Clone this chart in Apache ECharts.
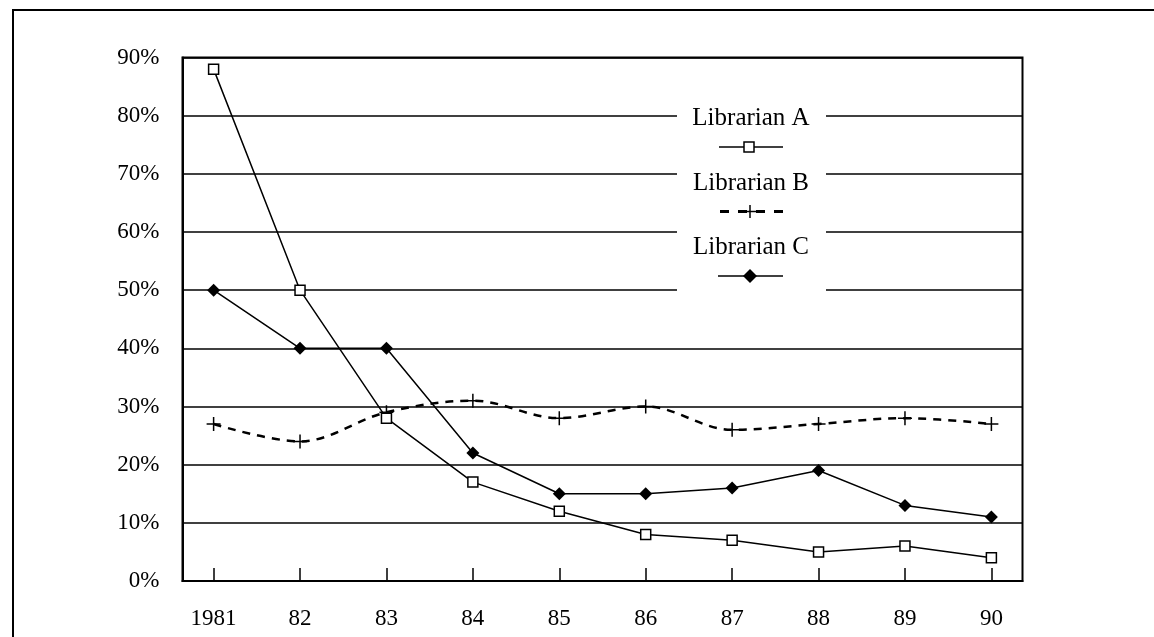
<!DOCTYPE html>
<html>
<head>
<meta charset="utf-8">
<script src="https://cdn.jsdelivr.net/npm/echarts@6/dist/echarts.min.js"></script>
<style>
html,body{margin:0;padding:0;background:#fff;}
#c{width:1154px;height:637px;}
</style>
</head>
<body>
<div id="c"></div>
<script>
const years = [1981, 1982, 1983, 1984, 1985, 1986, 1987, 1988, 1989, 1990];
const yearLabels = ['1981', '82', '83', '84', '85', '86', '87', '88', '89', '90'];
const librarianA = [88, 50, 28, 17, 12, 8, 7, 5, 6, 4];
const librarianB = [27, 24, 29, 31, 28, 30, 26, 27, 28, 27];
const librarianC = [50, 40, 40, 22, 15, 15, 16, 19, 13, 11];
const seriesNames = ['Librarian A', 'Librarian B', 'Librarian C'];

const FONT = 'Liberation Serif';
const pairs = arr => years.map((y, i) => [y, arr[i]]);
const plusPath = 'path://M0,5L10,5M5,0L5,10';
const LZ = 100;

const chart = echarts.init(document.getElementById('c'));
chart.setOption({
  backgroundColor: '#fff',
  animation: false,
  grid: {
    left: 182.5, right: 131.5, top: 57.5, bottom: 56,
    show: true, borderColor: '#000', borderWidth: 2, backgroundColor: 'transparent'
  },
  xAxis: {
    type: 'value',
    min: 1980.64, max: 1990.36,
    splitLine: { show: false },
    axisLine: { show: true, onZero: false, lineStyle: { color: '#000', width: 2 } },
    axisTick: { show: true, inside: true, length: 13, customValues: years, lineStyle: { color: '#000', width: 1.5 } },
    axisLabel: {
      customValues: years,
      formatter: v => yearLabels[years.indexOf(Math.round(v))],
      color: '#000', fontFamily: FONT, fontSize: 23, margin: 26
    }
  },
  yAxis: {
    type: 'value',
    min: 0, max: 90, interval: 10,
    axisLine: { show: true, lineStyle: { color: '#000', width: 2 } },
    axisTick: { show: false },
    splitLine: { show: true, lineStyle: { color: '#000', width: 1.5 } },
    axisLabel: { formatter: '{value}%', color: '#000', fontFamily: FONT, fontSize: 23, margin: 23 }
  },
  series: [
    {
      name: seriesNames[0], type: 'line', data: pairs(librarianA),
      symbol: 'rect', symbolSize: 10,
      lineStyle: { color: '#000', width: 1.5 },
      itemStyle: { color: '#fff', borderColor: '#000', borderWidth: 1.5 },
      z: 3
    },
    {
      name: seriesNames[1], type: 'line', data: pairs(librarianB),
      smooth: 0.35,
      symbol: plusPath, symbolSize: 14,
      lineStyle: { color: '#000', width: 2.5, type: [8, 7] },
      itemStyle: { color: 'none', borderColor: '#000', borderWidth: 1.5 },
      z: 2
    },
    {
      name: seriesNames[2], type: 'line', data: pairs(librarianC),
      symbol: 'diamond', symbolSize: 13,
      lineStyle: { color: '#000', width: 1.5 },
      itemStyle: { color: '#000' },
      z: 4
    }
  ],
  graphic: [
    {
      type: 'rect', z: 0, silent: true,
      shape: { x: 13, y: 10, width: 1200, height: 700 },
      style: { fill: 'none', stroke: '#000', lineWidth: 2 }
    },
    { type: 'rect', z: LZ, silent: true, shape: { x: 677, y: 100, width: 149, height: 198 }, style: { fill: '#fff' } },
    { type: 'text', z: LZ + 1, silent: true, x: 751, y: 118, style: { text: seriesNames[0], font: '25px "Liberation Serif"', fill: '#000', align: 'center', verticalAlign: 'middle' } },
    { type: 'line', z: LZ + 1, silent: true, shape: { x1: 719, y1: 147, x2: 783, y2: 147 }, style: { stroke: '#000', lineWidth: 1.5 } },
    { type: 'rect', z: LZ + 2, silent: true, shape: { x: 744, y: 142, width: 10, height: 10 }, style: { fill: '#fff', stroke: '#000', lineWidth: 1.5 } },
    { type: 'text', z: LZ + 1, silent: true, x: 751, y: 183, style: { text: seriesNames[1], font: '25px "Liberation Serif"', fill: '#000', align: 'center', verticalAlign: 'middle' } },
    { type: 'line', z: LZ + 1, silent: true, shape: { x1: 720, y1: 211.5, x2: 783, y2: 211.5 }, style: { stroke: '#000', lineWidth: 3, lineDash: [9, 9] } },
    { type: 'line', z: LZ + 2, silent: true, shape: { x1: 743, y1: 211.5, x2: 757, y2: 211.5 }, style: { stroke: '#000', lineWidth: 1.5 } },
    { type: 'line', z: LZ + 2, silent: true, shape: { x1: 750, y1: 205, x2: 750, y2: 218 }, style: { stroke: '#000', lineWidth: 1.5 } },
    { type: 'text', z: LZ + 1, silent: true, x: 751, y: 247, style: { text: seriesNames[2], font: '25px "Liberation Serif"', fill: '#000', align: 'center', verticalAlign: 'middle' } },
    { type: 'line', z: LZ + 1, silent: true, shape: { x1: 718, y1: 276, x2: 783, y2: 276 }, style: { stroke: '#000', lineWidth: 1.5 } },
    { type: 'polygon', z: LZ + 2, silent: true, shape: { points: [[750, 269], [757, 276], [750, 283], [743, 276]] }, style: { fill: '#000' } }
  ]
});
</script>
</body>
</html>
